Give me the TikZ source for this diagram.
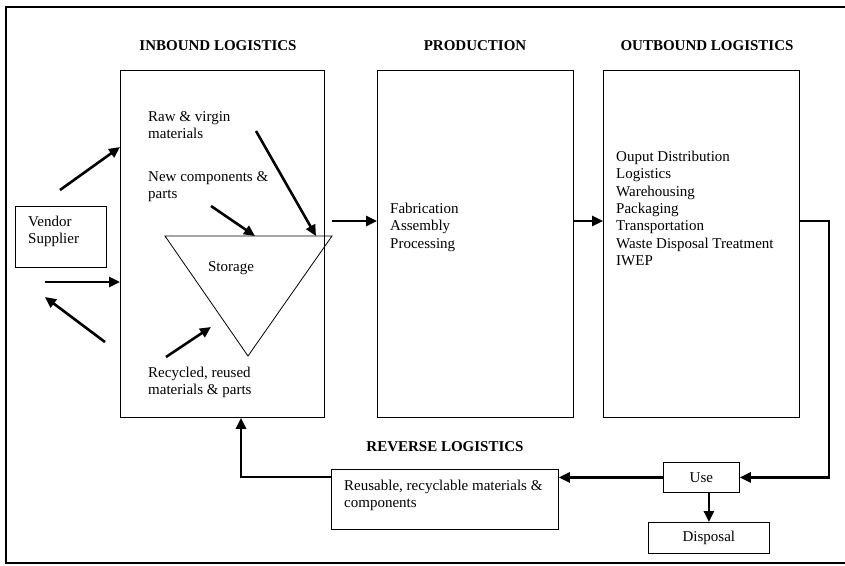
\documentclass[tikz,border=0pt]{standalone}
\usepackage{fontspec}
\setmainfont{Liberation Serif}
\usetikzlibrary{arrows.meta}
\begin{document}
\begin{tikzpicture}[x=1pt,y=-1pt,
  box/.style={draw, line width=0.8pt, inner sep=0pt, anchor=north west},
  txt/.style={inner sep=0pt, anchor=north west, align=left, font=\fontsize{15}{17.3}\selectfont},
  ttl/.style={inner sep=0pt, font=\fontsize{15}{17.3}\selectfont\bfseries},
  lbl/.style={font=\fontsize{15}{17.3}\selectfont},
  arr/.style={line width=2.6pt, -{Triangle[length=11pt,width=10pt]}},
  ]
\useasboundingbox (0,0) rectangle (845,565);
\draw[line width=2pt] (847,7) -- (6,7) -- (6,563) -- (847,563);

% titles
\node[ttl] (t1) at (218,46) {INBOUND LOGISTICS};
\node[ttl] (t2) at (475,46) {PRODUCTION};
\node[ttl] (t3) at (707,46) {OUTBOUND LOGISTICS};
\node[ttl] (t4) at (445,447) {REVERSE LOGISTICS};

% main boxes
\node[box, minimum width=204, minimum height=347] (inb) at (120,70) {};
\node[box, minimum width=196, minimum height=347] (prod) at (377,70) {};
\node[box, minimum width=196, minimum height=347] (out) at (603,70) {};
\node[box, minimum width=91, minimum height=61] (vend) at (15,206) {};
\node[box, minimum width=227, minimum height=60] (reus) at (331,469) {};
\node[box, minimum width=76, minimum height=30, lbl] (use) at (663,462) {Use};
\node[box, minimum width=121, minimum height=31, lbl] (disp) at (648,522) {Disposal};

% texts
\node[txt] (vendt) at (28,216) {Vendor\\Supplier};
\node[txt] (raw) at (148,111) {Raw \& virgin\\materials};
\node[txt] (newc) at (148,171) {New components \&\\parts};
\node[txt] (recy) at (148,367) {Recycled, reused\\materials \& parts};
\node[txt] (fab) at (390,203) {Fabrication\\Assembly\\Processing};
\node[txt] (outt) at (616,151) {Ouput Distribution\\Logistics\\Warehousing\\Packaging\\Transportation\\Waste Disposal Treatment\\IWEP};
\node[txt] (reust) at (344,480) {Reusable, recyclable materials \&\\components};

% storage triangle
\coordinate (tl) at (165,236);
\coordinate (tr) at (332,236);
\coordinate (tb) at (248,356);
\draw[line width=0.8pt, line join=miter] (tl) -- (tr) -- (tb) -- cycle;
\node[lbl, inner sep=0pt] (stor) at (231,268) {Storage};

% vendor arrows
\coordinate (v1s) at (60,190);
\coordinate (v1e) at (120,147);
\draw[arr] (v1s) -- (v1e);
\coordinate (v2s) at (45,282);
\draw[arr] (v2s) -- (v2s -| inb.west);
\coordinate (v3s) at (105,342);
\coordinate (v3e) at (45,297);
\draw[arr] (v3s) -- (v3e);

% arrows into storage
\coordinate (r1) at (256,131);
\coordinate (r2) at (316,236);
\draw[arr] (r1) -- (r2);
\coordinate (n1) at (211,206);
\coordinate (n2) at (255,236);
\draw[arr] (n1) -- (n2);
\coordinate (c1) at (166,357);
\coordinate (c2) at (211,327);
\draw[arr] (c1) -- (c2);

% flow arrows
\coordinate (ip) at (332,221);
\draw[arr] (ip) -- (ip -| prod.west);
\draw[arr] (prod.east |- ip) -- (out.west |- ip);
\coordinate (rt) at (829,221);
\draw[arr, line join=miter] (out.east |- rt) -- (rt) |- (use.east);
\draw[arr] (use.west) -- (use.west -| reus.east);
\coordinate (rb) at (241,477);
\draw[arr, line join=miter] (reus.west |- rb) -- (rb) -- (rb |- inb.south);
\draw[arr] (use.south -| disp.north) -- (disp.north);
\end{tikzpicture}
\end{document}
